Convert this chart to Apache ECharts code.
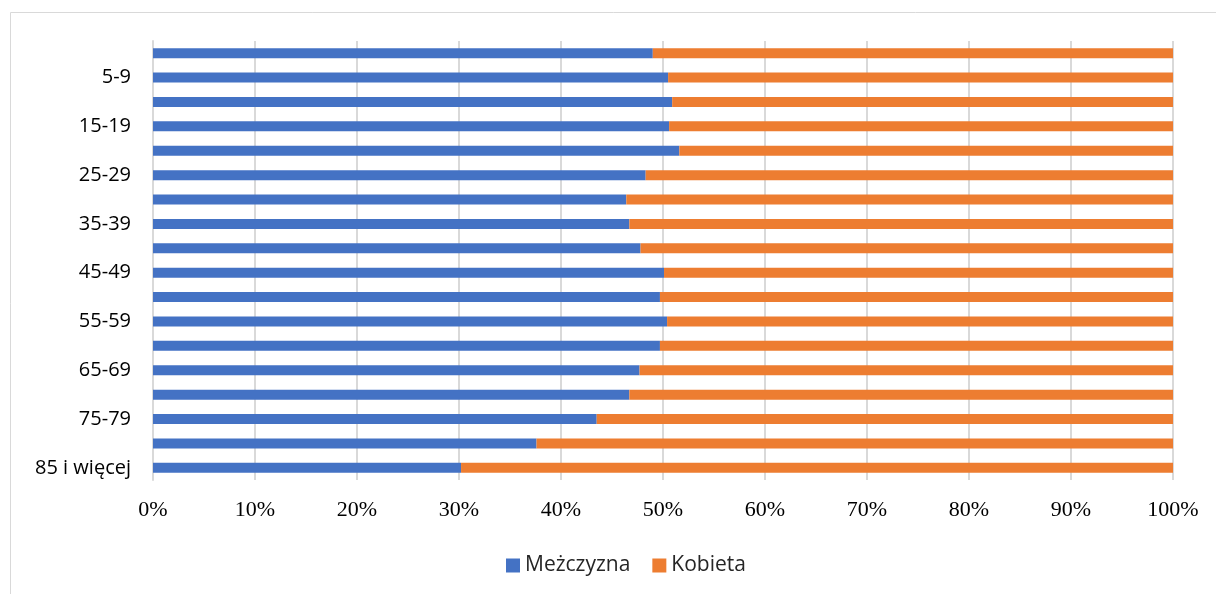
<!DOCTYPE html>
<html><head><meta charset="utf-8">
<script src="https://cdn.jsdelivr.net/npm/echarts@6/dist/echarts.min.js"></script>
<style>html,body{margin:0;padding:0;background:#fff}#c{width:1216px;height:594px}</style>
</head><body><div id="c"></div>
<script>
const categories = ['0-4','5-9','10-14','15-19','20-24','25-29','30-34','35-39','40-44','45-49','50-54','55-59','60-64','65-69','70-74','75-79','80-84','85 i więcej'];
const men = [49.0,50.5,50.9,50.6,51.6,48.3,46.4,46.7,47.8,50.1,49.7,50.4,49.7,47.7,46.7,43.5,37.6,30.2];
const women = men.map(v => +(100 - v).toFixed(1));
const seriesNames = ['Meżczyzna','Kobieta'];
const xTicks = [0,10,20,30,40,50,60,70,80,90,100];

const chart = echarts.init(document.getElementById('c'), null, {renderer:'canvas'});
chart.setOption({
  animation:false,
  graphic:[{type:'rect',shape:{x:10.5,y:12.5,width:1220,height:600},style:{fill:'none',stroke:'#d9d9d9',lineWidth:1},silent:true}],
  grid:{left:153,right:43,top:41,bottom:114},
  legend:{top:550,left:501,itemWidth:14,itemHeight:14,itemGap:22,icon:'rect',
    textStyle:{fontFamily:'Open Sans',fontSize:21,color:'#262626'},data:seriesNames},
  xAxis:{type:'value',min:0,max:100,interval:10,
    axisLabel:{formatter:v=>v+'%',fontFamily:'Liberation Serif',fontSize:22,color:'#000',margin:19},
    axisLine:{show:false},axisTick:{show:false},
    splitLine:{lineStyle:{color:'#d9d9d9',width:2}}},
  yAxis:{type:'category',inverse:true,data:categories,
    axisLabel:{interval:(i)=>i%2===1,fontFamily:'Open Sans',fontSize:20,color:'#000',margin:22},
    axisTick:{show:false},
    axisLine:{show:true,lineStyle:{color:'#d9d9d9',width:2}}},
  series:[
    {name:seriesNames[0],type:'bar',stack:'a',data:men,barWidth:10,itemStyle:{color:'#4472C4'}},
    {name:seriesNames[1],type:'bar',stack:'a',data:women,barWidth:10,itemStyle:{color:'#ED7D31'}}
  ]
});
</script></body></html>
